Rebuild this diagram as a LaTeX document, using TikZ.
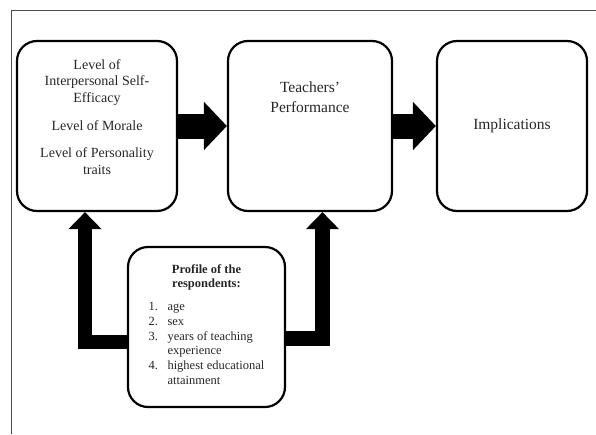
\documentclass[tikz,border=0pt]{standalone}
\usepackage{fontspec}
\setmainfont{Liberation Serif}
\usetikzlibrary{arrows.meta}

\tikzset{
  box/.style={draw=black, line width=2.2pt, rounded corners=20pt, inner sep=0pt},
  txt/.style={align=center, text=black!85, inner sep=0pt},
  blockarrow/.style={line width=25pt, -{Triangle[length=23pt, width=47pt]}},
  elbowarrow/.style={line width=14.5pt, -{Triangle[length=17pt, width=32pt]}}
}

\begin{document}
\begin{tikzpicture}[x=1pt, y=-1pt]
  \useasboundingbox (0,0) rectangle (596,434);

  % --- 1. Frame (top and left edges only) ---
  \draw[black!70, line width=1pt] (11,434) -- (11,10) -- (596,10);

  % --- 2. Boxes ---
  \node[box, minimum width=160pt, minimum height=170pt] (lvl) at (97,126) {};
  \node[box, minimum width=164pt, minimum height=170pt] (perf) at (310,126) {};
  \node[box, minimum width=150pt, minimum height=170pt] (impl) at (512,126) {};
  \node[box, minimum width=157pt, minimum height=160pt] (prof) at (206.5,327) {};

  % --- 3. Texts ---
  \node[txt, font=\fontsize{14}{16.5}\selectfont] (lvltxt) at (97,117)
    {Level of\\ Interpersonal Self-\\ Efficacy\\[11.5pt]
     Level of Morale\\[11pt]
     Level of Personality\\ traits};
  \node[txt, font=\fontsize{15.5}{19.5}\selectfont] (perftxt) at (310,97)
    {Teachers'\\ Performance};
  \node[txt, font=\fontsize{15.5}{19.5}\selectfont] (impltxt) at (impl) {Implications};
  \node[txt, font=\fontsize{12.5}{14.7}\selectfont] (proftxt) at (206.5,326.5)
    {\textbf{Profile of the}\\ \textbf{respondents:}\\[9pt]
     \begin{tabular}{@{}l@{\hspace{9.5pt}}l@{}}
       1. & age\\
       2. & sex\\
       3. & years of teaching\\
          & experience\\
       4. & highest educational\\
          & attainment
     \end{tabular}};

  % --- 4. Block arrows ---
  \draw[blockarrow] (lvl.east) -- (perf.west);
  \draw[blockarrow] (perf.east) -- (impl.west);

  % --- 5. Elbow arrows from the profile ---
  \draw[elbowarrow] ([yshift=-15pt]prof.west) -| ([xshift=-12pt]lvl.south);
  \draw[elbowarrow] ([yshift=-11.5pt]prof.east) -| ([xshift=12.5pt]perf.south);

\end{tikzpicture}
\end{document}
